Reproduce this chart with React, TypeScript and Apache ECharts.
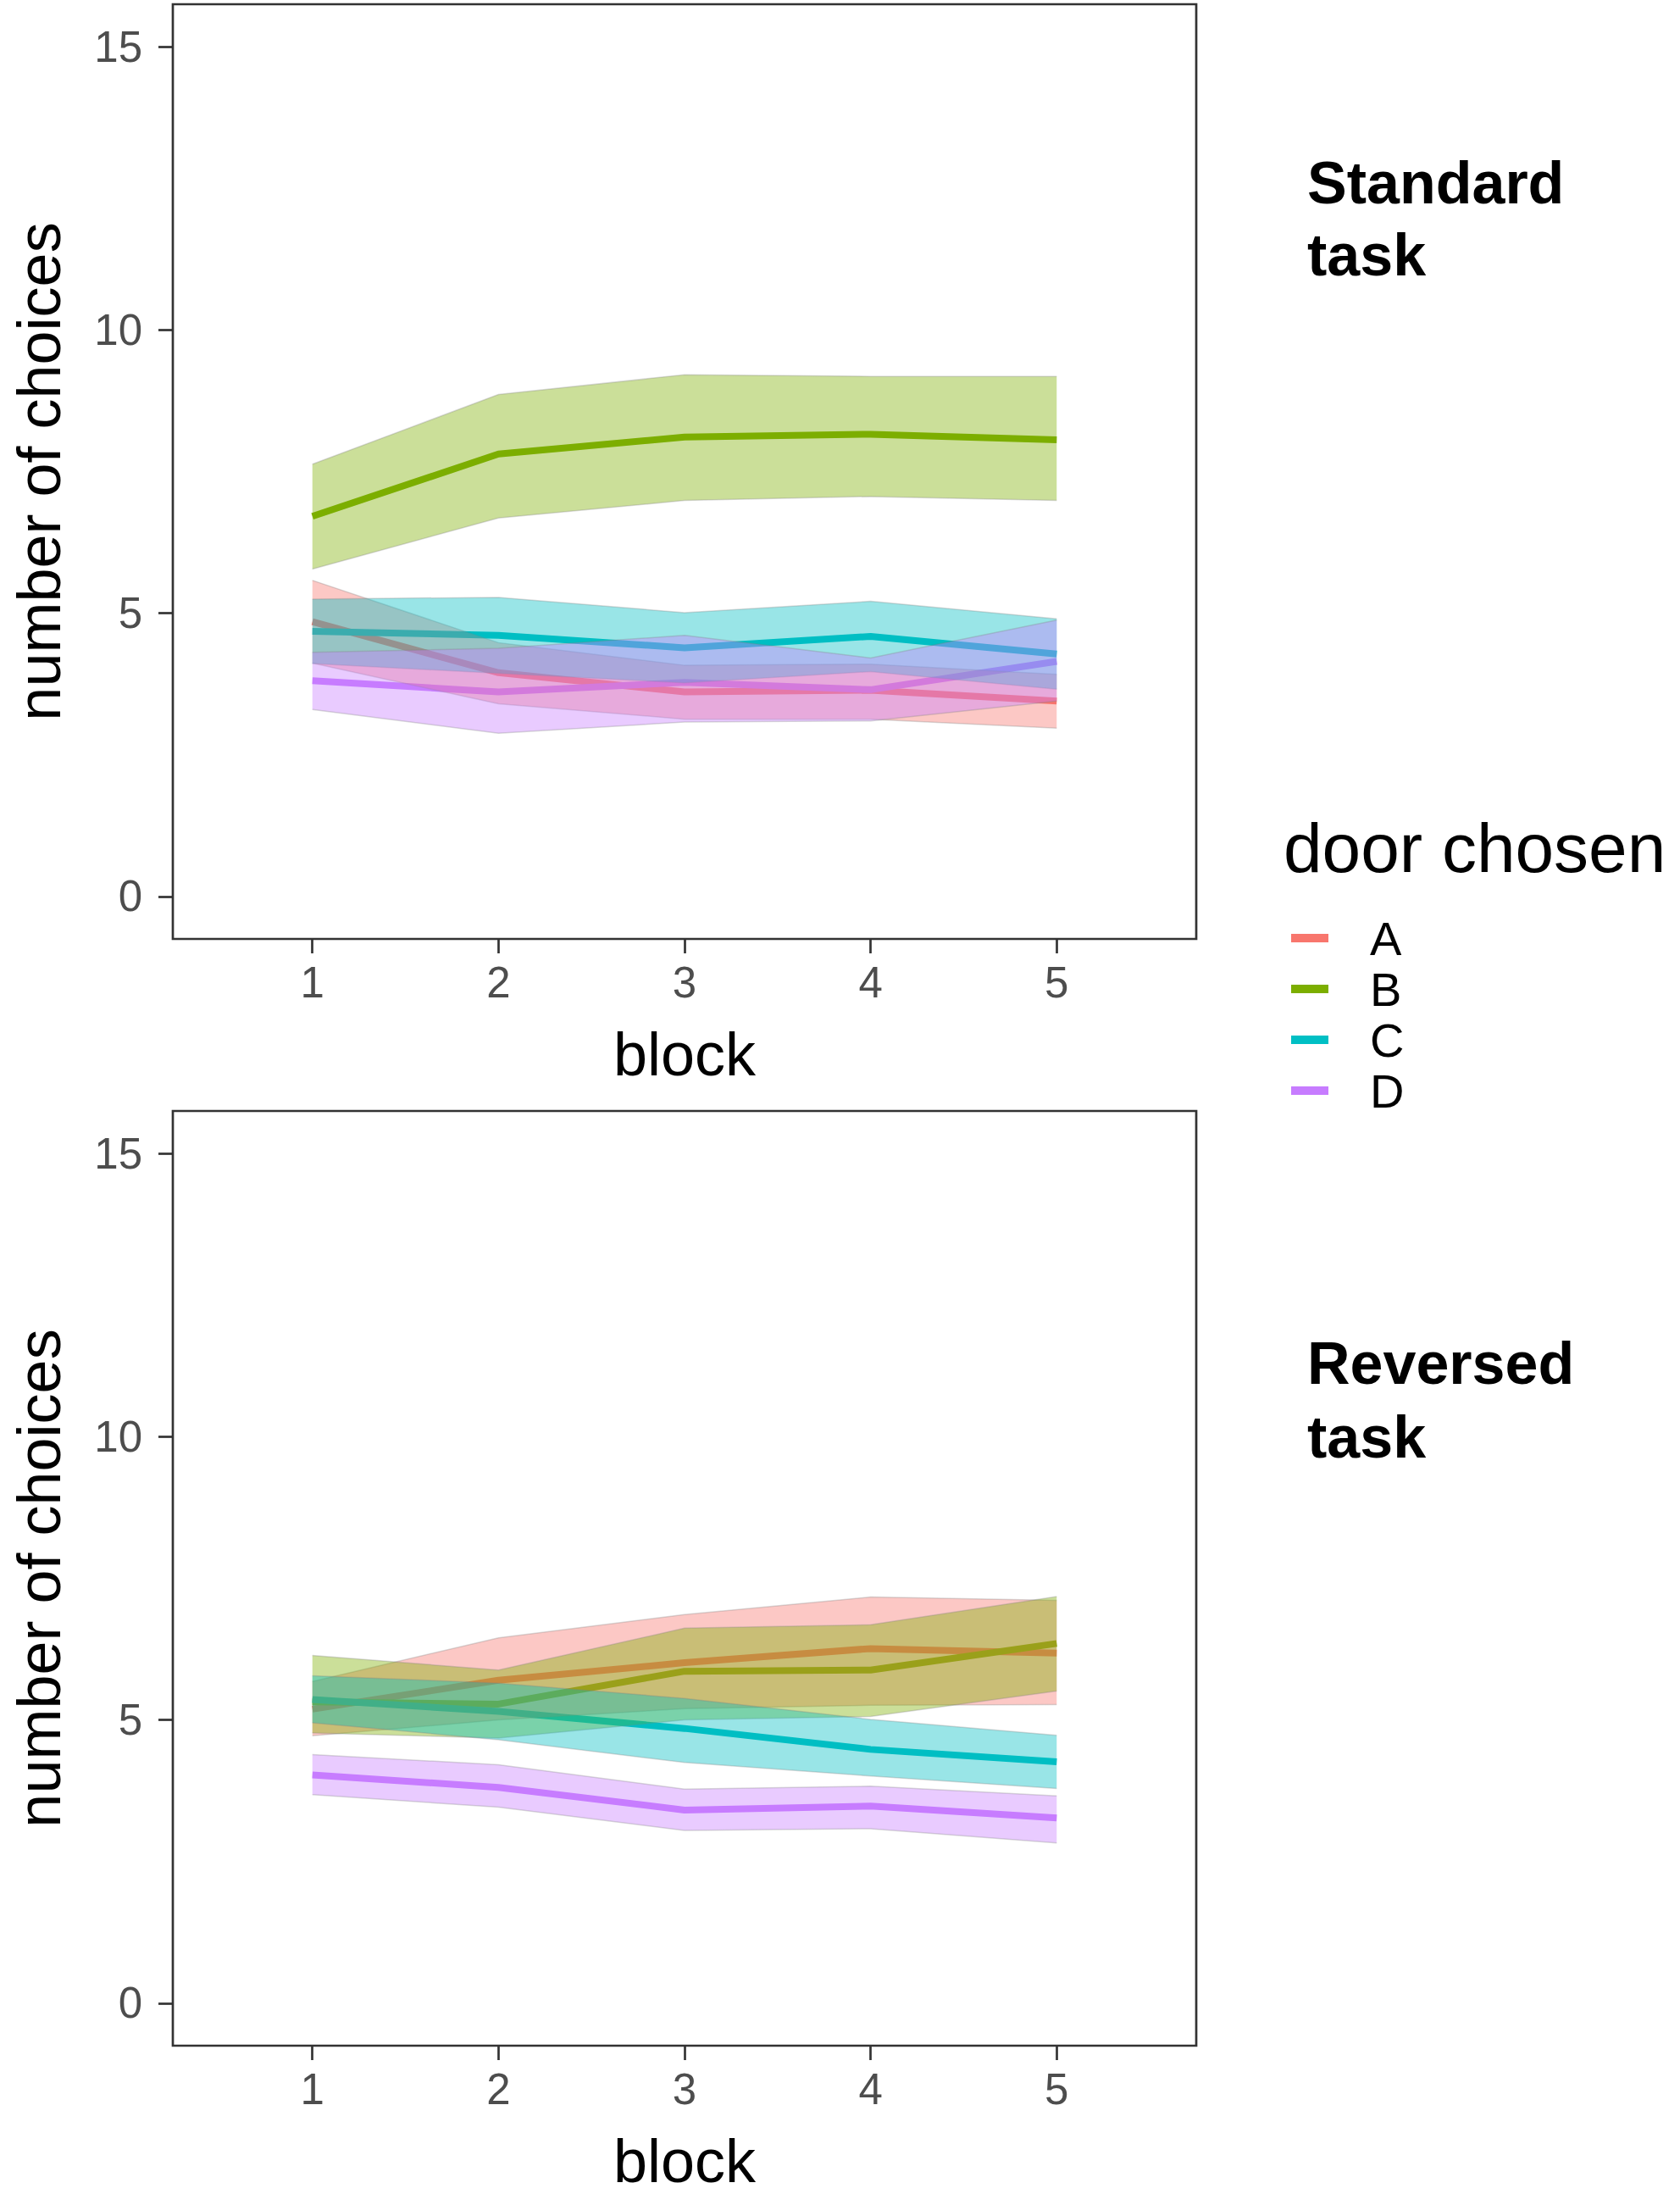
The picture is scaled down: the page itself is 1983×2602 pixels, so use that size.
import React, { useEffect, useRef } from "react";
import * as echarts from "echarts";

const blocks = [1, 2, 3, 4, 5];
const doors = ["A", "B", "C", "D"];
const doorColors = ["#F8766D", "#7CAE00", "#00BFC4", "#C77CFF"];
const bandFills = [
  "rgba(248,118,109,0.4)",
  "rgba(124,174,0,0.4)",
  "rgba(0,191,196,0.4)",
  "rgba(199,124,255,0.4)",
];
const xTicks = [1, 2, 3, 4, 5];
const yTicks = [0, 5, 10, 15];
const panelTitles = [["Standard", "task"], ["Reversed", "task"]];

// Standard task
const stdMeanA = [4.85, 3.95, 3.61, 3.64, 3.45];
const stdLoA = [4.12, 3.4, 3.13, 3.13, 2.97];
const stdHiA = [5.58, 4.48, 4.08, 4.1, 3.92];
const stdMeanB = [6.71, 7.81, 8.11, 8.16, 8.06];
const stdLoB = [5.78, 6.68, 6.99, 7.06, 6.99];
const stdHiB = [7.63, 8.86, 9.21, 9.18, 9.18];
const stdMeanC = [4.68, 4.61, 4.39, 4.59, 4.28];
const stdLoC = [4.11, 3.94, 3.77, 3.97, 3.66];
const stdHiC = [5.25, 5.28, 5.01, 5.21, 4.9];
const stdMeanD = [3.81, 3.61, 3.78, 3.65, 4.15];
const stdLoD = [3.3, 2.88, 3.08, 3.1, 3.45];
const stdHiD = [4.31, 4.38, 4.61, 4.21, 4.88];

// Reversed task
const revMeanA = [5.19, 5.7, 6.01, 6.26, 6.18];
const revLoA = [4.72, 5.0, 5.2, 5.26, 5.27];
const revHiA = [5.68, 6.45, 6.86, 7.17, 7.11];
const revMeanB = [5.32, 5.28, 5.86, 5.88, 6.35];
const revLoB = [4.77, 4.68, 5.0, 5.06, 5.51];
const revHiB = [6.14, 5.88, 6.62, 6.68, 7.18];
const revMeanC = [5.36, 5.15, 4.85, 4.48, 4.26];
const revLoC = [4.95, 4.65, 4.25, 4.01, 3.79];
const revHiC = [5.78, 5.65, 5.38, 5.01, 4.73];
const revMeanD = [4.03, 3.81, 3.41, 3.48, 3.27];
const revLoD = [3.68, 3.46, 3.05, 3.08, 2.83];
const revHiD = [4.39, 4.21, 3.78, 3.83, 3.66];

const panels = [
  {
    mean: [stdMeanA, stdMeanB, stdMeanC, stdMeanD],
    lo: [stdLoA, stdLoB, stdLoC, stdLoD],
    hi: [stdHiA, stdHiB, stdHiC, stdHiD],
  },
  {
    mean: [revMeanA, revMeanB, revMeanC, revMeanD],
    lo: [revLoA, revLoB, revLoC, revLoD],
    hi: [revHiA, revHiB, revHiC, revHiD],
  },
];

const FONT = "'Liberation Sans', Arial, sans-serif";

export default function App() {
  const ref = useRef<HTMLDivElement>(null);

  useEffect(() => {
    document.body.style.margin = "0";
    if (!ref.current) return;
    const chart = echarts.init(ref.current, null, { renderer: "svg" });

    const gridTops = [5, 1311];
    const grids = gridTops.map((top) => ({
      left: 204,
      top,
      width: 1208,
      height: 1103,
      show: true,
      borderColor: "#333333",
      borderWidth: 2.7,
      backgroundColor: "transparent",
    }));

    const xAxes = gridTops.map((_, p) => ({
      type: "value",
      gridIndex: p,
      min: 0.25,
      max: 5.75,
      position: "bottom",
      splitLine: { show: false },
      axisLine: { show: false, onZero: false },
      axisTick: {
        show: true,
        length: 17,
        customValues: xTicks,
        lineStyle: { color: "#333333", width: 2.7 },
      },
      axisLabel: {
        customValues: xTicks,
        fontSize: 51,
        color: "#4D4D4D",
        margin: 26,
        fontFamily: FONT,
      },
      name: "block",
      nameLocation: "middle",
      nameGap: 100,
      nameTextStyle: { fontSize: 72, color: "#000000", fontFamily: FONT },
    }));

    const yAxes = gridTops.map((_, p) => ({
      type: "value",
      gridIndex: p,
      min: -0.75,
      max: 15.75,
      position: "left",
      splitLine: { show: false },
      axisLine: { show: false, onZero: false },
      axisTick: {
        show: true,
        length: 17,
        customValues: yTicks,
        lineStyle: { color: "#333333", width: 2.7 },
      },
      axisLabel: {
        customValues: yTicks,
        fontSize: 51,
        color: "#4D4D4D",
        margin: 36,
        fontFamily: FONT,
      },
      name: "number of choices",
      nameLocation: "middle",
      nameRotate: 90,
      nameGap: 122,
      nameTextStyle: { fontSize: 72, color: "#000000", fontFamily: FONT },
    }));

    const series: any[] = [];
    panels.forEach((panel, p) => {
      doors.forEach((door, g) => {
        series.push({
          type: "line",
          name: door,
          xAxisIndex: p,
          yAxisIndex: p,
          data: blocks.map((b, i) => [b, panel.mean[g][i]]),
          symbol: "none",
          showSymbol: false,
          lineStyle: { width: 8, color: doorColors[g] },
          itemStyle: { color: doorColors[g] },
          z: 2,
          silent: true,
        });
      });
    });
    panels.forEach((panel, p) => {
      doors.forEach((door, g) => {
        const lo = panel.lo[g];
        const hi = panel.hi[g];
        series.push({
          type: "custom",
          name: door + " band " + p,
          xAxisIndex: p,
          yAxisIndex: p,
          data: blocks.map((b, i) => [b, lo[i], hi[i]]),
          encode: { x: 0, y: [1, 2] },
          z: 3,
          silent: true,
          renderItem: (params: any, api: any) => {
            if (params.dataIndex !== 0) return null;
            const upper = blocks.map((b, i) => api.coord([b, hi[i]]));
            const lower = blocks.map((b, i) => api.coord([b, lo[i]]));
            const poly = upper.concat(lower.slice().reverse());
            return {
              type: "group",
              children: [
                {
                  type: "polygon",
                  shape: { points: poly },
                  style: { fill: bandFills[g], stroke: "none" },
                },
                {
                  type: "polyline",
                  shape: { points: upper },
                  style: { fill: "none", stroke: "rgba(128,128,128,0.3)", lineWidth: 1.5 },
                },
                {
                  type: "polyline",
                  shape: { points: lower },
                  style: { fill: "none", stroke: "rgba(128,128,128,0.3)", lineWidth: 1.5 },
                },
              ],
            };
          },
        });
      });
    });

    const titleGraphics: any[] = [];
    const titleY = [
      [216, 301],
      [1609, 1696],
    ];
    panelTitles.forEach((lines, p) => {
      lines.forEach((t, k) => {
        titleGraphics.push({
          type: "text",
          x: 1543,
          y: titleY[p][k],
          style: {
            text: t,
            fill: "#000000",
            font: "bold 70px " + FONT,
            verticalAlign: "middle",
            align: "left",
          },
        });
      });
    });
    titleGraphics.push({
      type: "text",
      x: 1515,
      y: 1000,
      style: {
        text: "door chosen",
        fill: "#000000",
        font: "82px " + FONT,
        verticalAlign: "middle",
        align: "left",
      },
    });

    chart.setOption({
      animation: false,
      backgroundColor: "#ffffff",
      textStyle: { fontFamily: FONT },
      grid: grids,
      xAxis: xAxes,
      yAxis: yAxes,
      legend: {
        data: doors.map((d) => ({ name: d, icon: "rect" })),
        orient: "vertical",
        left: 1519,
        top: 1073,
        itemWidth: 44,
        itemHeight: 10,
        itemGap: 2,
        selectedMode: false,
        itemStyle: { borderWidth: 0 },
        textStyle: {
          fontSize: 56,
          lineHeight: 58,
          color: "#000000",
          padding: [0, 0, 0, 44],
          fontFamily: FONT,
        },
      },
      graphic: titleGraphics,
      series,
    });

    return () => chart.dispose();
  }, []);

  return <div ref={ref} style={{ width: 1983, height: 2602 }} />;
}
